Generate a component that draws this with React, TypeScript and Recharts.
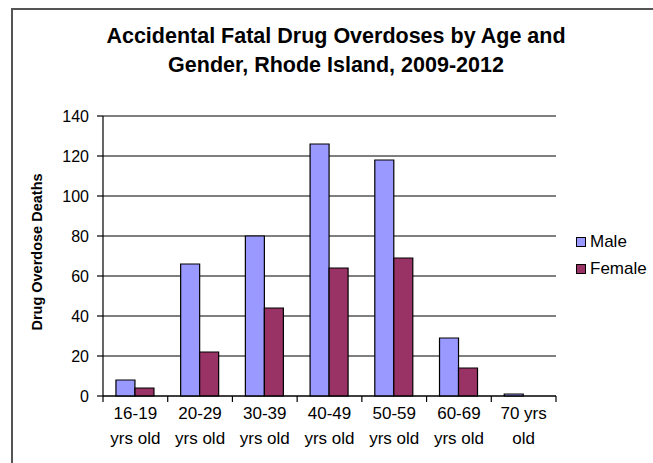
import React from "react";
import { BarChart, Bar, XAxis, YAxis, CartesianGrid } from "recharts";

// age groups (two-line labels), deaths per gender
const categories = [
  "16-19\nyrs old",
  "20-29\nyrs old",
  "30-39\nyrs old",
  "40-49\nyrs old",
  "50-59\nyrs old",
  "60-69\nyrs old",
  "70 yrs\nold",
];
const male = [8, 66, 80, 126, 118, 29, 1];
const female = [4, 22, 44, 64, 69, 14, 0];
const yTicks = [0, 20, 40, 60, 80, 100, 120, 140];

const data = categories.map((c, i) => ({ age: c, Male: male[i], Female: female[i] }));

const W = 653;
const H = 463;
const PLOT_LEFT = 103;
const PLOT_RIGHT = 556;
const PLOT_TOP = 116;
const PLOT_BOTTOM = 396;
const Y_AXIS_W = 60;
const X_AXIS_H = 60;
const BAND = (PLOT_RIGHT - PLOT_LEFT) / categories.length;

const MALE_COLOR = "#9999FF";
const FEMALE_COLOR = "#993366";
const FONT = "'Liberation Sans', Arial, sans-serif";

// x tick: two text lines + boundary tick marks between categories
function AgeTick(props: any) {
  const { x, payload, index } = props;
  const lines = String(payload.value).split("\n");
  const left = x - BAND / 2;
  return (
    <g>
      <line x1={left} x2={left} y1={PLOT_BOTTOM} y2={PLOT_BOTTOM + 6} stroke="#000" strokeWidth={1.2} />
      {index === categories.length - 1 && (
        <line x1={x + BAND / 2} x2={x + BAND / 2} y1={PLOT_BOTTOM} y2={PLOT_BOTTOM + 6} stroke="#000" strokeWidth={1.2} />
      )}
      {lines.map((l, i) => (
        <text key={i} x={x} y={PLOT_BOTTOM + 23 + i * 25} textAnchor="middle" fontSize={17} fill="#000" fontFamily={FONT}>
          {l}
        </text>
      ))}
    </g>
  );
}

export default function App() {
  return (
    <div style={{ position: "absolute", left: 0, top: 0, width: W, height: H, overflow: "hidden", background: "#fff", fontFamily: FONT }}>
      <div style={{ position: "absolute", left: 11, top: 8, width: 800, height: 600, borderTop: "2px solid #555", borderLeft: "2px solid #555" }} />

      <div style={{ position: "absolute", left: 0, width: 672, top: 22, textAlign: "center", fontSize: 21.5, fontWeight: "bold", lineHeight: "29px", color: "#000" }}>
        Accidental Fatal Drug Overdoses by Age and
        <br />
        Gender, Rhode Island, 2009-2012
      </div>

      <div style={{ position: "absolute", left: 37 - 100, top: 252 - 10, width: 200, height: 20, lineHeight: "20px", textAlign: "center", transform: "rotate(-90deg)", fontSize: 14.5, fontWeight: "bold", color: "#000" }}>
        Drug Overdose Deaths
      </div>

      <BarChart
        width={W}
        height={H}
        data={data}
        margin={{ top: PLOT_TOP, left: PLOT_LEFT - Y_AXIS_W, right: W - PLOT_RIGHT, bottom: H - PLOT_BOTTOM - X_AXIS_H }}
        barCategoryGap="20%"
        barGap={0}
        style={{ position: "absolute", left: 0, top: 0 }}
      >
        <CartesianGrid vertical={false} stroke="#000" strokeWidth={1.2} yAxisId="left" />
        <XAxis dataKey="age" height={X_AXIS_H} interval={0} tickLine={false} axisLine={{ stroke: "#000", strokeWidth: 1.2 }} tick={<AgeTick />} />
        <YAxis
          yAxisId="left"
          width={Y_AXIS_W}
          domain={[0, 140]}
          ticks={yTicks}
          interval={0}
          tickSize={6}
          tickMargin={8}
          axisLine={{ stroke: "#000", strokeWidth: 1.2 }}
          tickLine={{ stroke: "#000", strokeWidth: 1.2 }}
          tick={{ fontSize: 16, fill: "#000", fontFamily: FONT }}
        />
        <YAxis yAxisId="right" orientation="right" width={0} domain={[0, 140]} tick={false} tickLine={false} axisLine={{ stroke: "#000", strokeWidth: 1.2 }} />
        <Bar yAxisId="left" dataKey="Male" fill={MALE_COLOR} stroke="#000" strokeWidth={1.2} isAnimationActive={false} />
        <Bar yAxisId="left" dataKey="Female" fill={FEMALE_COLOR} stroke="#000" strokeWidth={1.2} isAnimationActive={false} />
      </BarChart>

      <div style={{ position: "absolute", left: 576, top: 228, fontSize: 17, color: "#000", lineHeight: "27px" }}>
        {[["Male", MALE_COLOR], ["Female", FEMALE_COLOR]].map(([name, color]) => (
          <div key={name} style={{ display: "flex", alignItems: "center" }}>
            <span style={{ display: "inline-block", width: 8, height: 8, background: color, border: "1px solid #000", marginRight: 4 }} />
            {name}
          </div>
        ))}
      </div>
    </div>
  );
}
